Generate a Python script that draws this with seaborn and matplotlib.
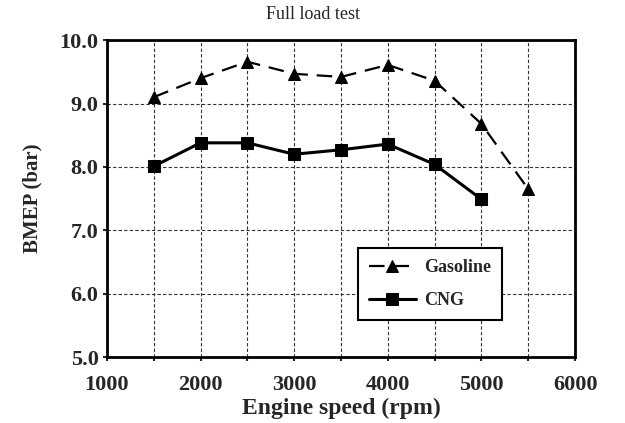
import numpy as np
import pandas as pd
import matplotlib
matplotlib.use("Agg")
import matplotlib.pyplot as plt
import seaborn as sns

speed_gas = [1500, 2000, 2500, 3000, 3500, 4000, 4500, 5000, 5500]
bmep_gas = [9.10, 9.40, 9.66, 9.47, 9.42, 9.61, 9.36, 8.68, 7.65]
speed_cng = [1500, 2000, 2500, 3000, 3500, 4000, 4500, 5000]
bmep_cng = [8.01, 8.38, 8.38, 8.20, 8.27, 8.36, 8.04, 7.49]

sns.set_style("white")
plt.rcParams['font.family'] = ['Liberation Serif', 'DejaVu Serif']

fig = plt.figure(figsize=(6.25, 4.23), dpi=100)
ax = fig.add_axes([0.171, 0.156, 0.749, 0.749])

sns.lineplot(x=speed_gas, y=bmep_gas, ax=ax, color='black', marker='^', markersize=9,
             linestyle=(0, (7, 4)), linewidth=1.6, label='Gasoline', markeredgecolor='black')
sns.lineplot(x=speed_cng, y=bmep_cng, ax=ax, color='black', marker='s', markersize=8,
             linewidth=2.2, label='CNG', markeredgecolor='black')

ax.set_xlim(1000, 6000)
ax.set_ylim(5.0, 10.0)
ax.set_xticks(np.arange(1000, 6001, 1000))
ax.set_xticks(np.arange(1000, 6001, 500), minor=True)
ax.set_yticks(np.arange(5, 10.01, 1))
ax.set_yticklabels([f"{v:.1f}" for v in np.arange(5, 10.01, 1)])
ax.grid(True, which='both', axis='x', linestyle=(0, (3, 2)), color='#333333', linewidth=0.8)
ax.grid(True, which='major', axis='y', linestyle=(0, (3, 2)), color='#333333', linewidth=0.8)
ax.tick_params(axis='both', which='both', direction='out', length=3, width=1.5, bottom=True, left=True,
               labelsize=16)
ax.tick_params(axis='x', which='major', pad=10)
ax.tick_params(axis='y', which='major', pad=3)
for lab in ax.get_xticklabels() + ax.get_yticklabels():
    lab.set_fontweight('bold')
for s in ax.spines.values():
    s.set_color('black')
    s.set_linewidth(2)

ax.set_xlabel("Engine speed (rpm)", fontsize=17, fontweight='bold', labelpad=2)
ax.set_ylabel("BMEP (bar)", fontsize=15, fontweight='bold', labelpad=12)
fig.text(0.5, 0.965, "Full load test", ha='center', va='center', fontsize=13)

leg = ax.legend(loc='upper left', bbox_to_anchor=(0.536, 0.344), fancybox=False, framealpha=1,
                edgecolor='black', prop={'weight': 'bold', 'size': 13}, handlelength=2.6,
                handletextpad=0.5, labelspacing=0.9, borderpad=0.6, borderaxespad=0)
leg.get_frame().set_linewidth(1.5)

fig.savefig("out.png", dpi=100)
